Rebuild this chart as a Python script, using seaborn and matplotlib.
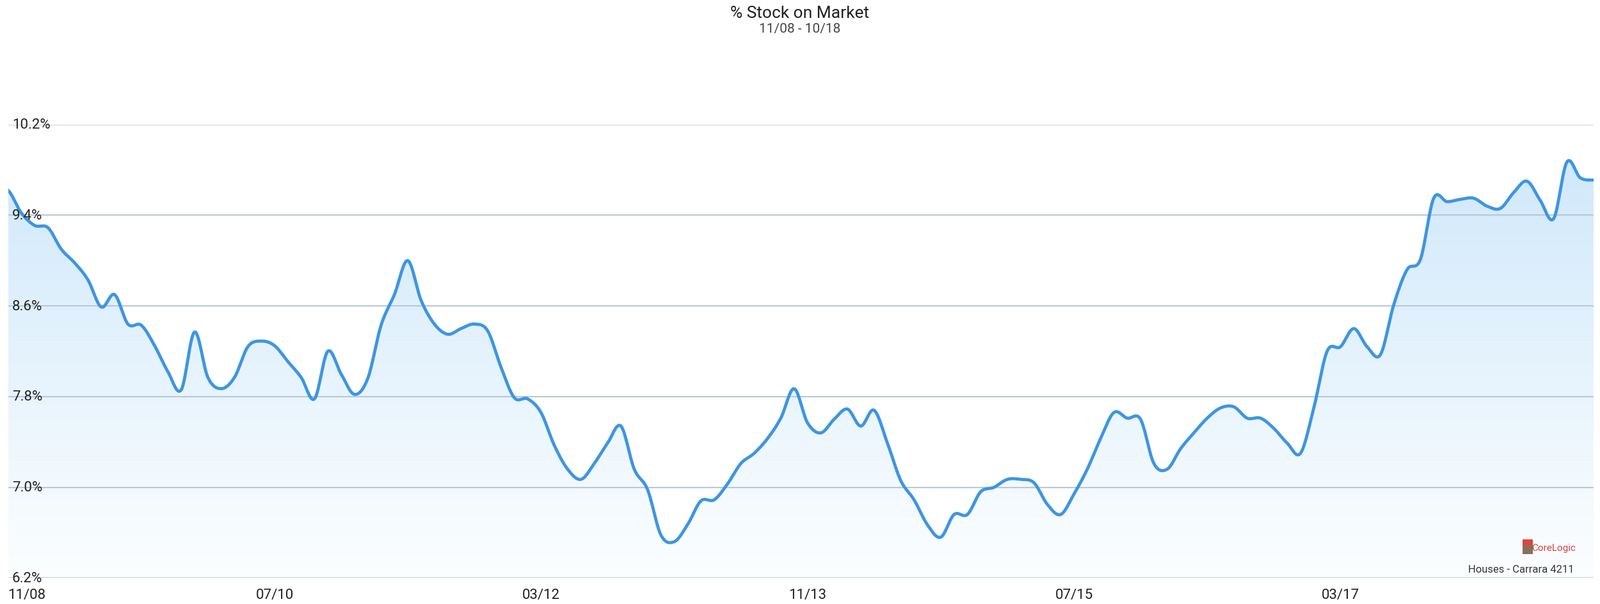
import numpy as np
import pandas as pd
import matplotlib
matplotlib.use("Agg")
import matplotlib.pyplot as plt
import seaborn as sns
from matplotlib.patches import Polygon, Rectangle
from matplotlib.colors import LinearSegmentedColormap

months = pd.date_range("2008-11-01", "2018-10-01", freq="MS")
values = [9.62, 9.42, 9.31, 9.29, 9.10, 8.98, 8.83, 8.59, 8.70, 8.44,
          8.43, 8.25, 8.02, 7.86, 8.37, 7.97, 7.87, 7.97, 8.24, 8.29,
          8.25, 8.11, 7.97, 7.78, 8.20, 8.00, 7.82, 7.96, 8.43, 8.70,
          9.00, 8.65, 8.44, 8.35, 8.40, 8.44, 8.38, 8.06, 7.79, 7.78,
          7.66, 7.37, 7.16, 7.07, 7.21, 7.39, 7.54, 7.16, 6.98, 6.58,
          6.52, 6.67, 6.88, 6.89, 7.03, 7.21, 7.30, 7.43, 7.61, 7.87,
          7.57, 7.48, 7.60, 7.69, 7.54, 7.68, 7.39, 7.06, 6.89, 6.67,
          6.56, 6.76, 6.76, 6.96, 7.00, 7.07, 7.07, 7.04, 6.85, 6.76,
          6.94, 7.16, 7.43, 7.66, 7.61, 7.60, 7.21, 7.16, 7.34, 7.48,
          7.61, 7.70, 7.71, 7.61, 7.61, 7.52, 7.39, 7.30, 7.70, 8.20,
          8.24, 8.40, 8.24, 8.17, 8.61, 8.92, 9.01, 9.55, 9.52, 9.54,
          9.55, 9.48, 9.46, 9.60, 9.70, 9.53, 9.37, 9.87, 9.73, 9.71]
y_ticks = [6.2, 7.0, 7.8, 8.6, 9.4, 10.2]
x_tick_labels = ["11/08", "07/10", "03/12", "11/13", "07/15", "03/17"]
x_tick_idx = [0, 20, 40, 60, 80, 100]

ts = np.linspace(0, len(values) - 1, 2000)
v = np.array(values)
def catmull(tq):
    i = np.clip(np.floor(tq).astype(int), 0, len(v) - 2)
    u = tq - i
    p0 = v[np.clip(i - 1, 0, len(v) - 1)]; p1 = v[i]; p2 = v[i + 1]; p3 = v[np.clip(i + 2, 0, len(v) - 1)]
    return 0.5 * ((2 * p1) + (-p0 + p2) * u + (2 * p0 - 5 * p1 + 4 * p2 - p3) * u ** 2 + (-p0 + 3 * p1 - 3 * p2 + p3) * u ** 3)
vs = catmull(ts)
df = pd.DataFrame({"x": ts, "y": vs})

plt.rcParams["font.family"] = "Roboto"
fig = plt.figure(figsize=(25, 9.45), dpi=100)
ax = fig.add_axes([0.005, 0.043, 0.991, 0.750])
ax.set_xlim(0, len(values) - 1)
ax.set_ylim(6.2, 10.2)

grad = np.linspace(0, 1, 256).reshape(-1, 1)
cmap = LinearSegmentedColormap.from_list("g", ["#fcfeff", "#cfe8fb"])
im = ax.imshow(grad, aspect="auto", cmap=cmap, origin="lower",
               extent=[0, len(values) - 1, 6.2, 10.0], zorder=1)
poly = Polygon(np.column_stack([np.r_[ts, ts[-1], ts[0]], np.r_[vs, 6.2, 6.2]]),
               closed=True, transform=ax.transData, facecolor="none", edgecolor="none")
ax.add_patch(poly)
im.set_clip_path(poly)

for yt in y_ticks:
    ax.axhline(yt, color="#c7d3e0" if yt in (6.2, 10.2) else "#b8c8d8", lw=1.5, zorder=2)
    ax.text(0.3, yt, f"{yt:.1f}%", fontsize=16, color="#222222",
            va="center", ha="left", zorder=5)

sns.lineplot(data=df, x="x", y="y", ax=ax, color="#3d95e3", lw=3.5, zorder=4)

ax.set_axis_off()
for idx, lab in zip(x_tick_idx, x_tick_labels):
    ax.text(idx, 6.2 - 0.09, lab, fontsize=16, color="#222222",
            ha="left" if idx == 0 else "center", va="top", clip_on=False)

fig.text(0.5, 0.99, "% Stock on Market", ha="center", va="top", fontsize=19, color="#222222")
fig.text(0.5, 0.962, "11/08 - 10/18", ha="center", va="top", fontsize=15, color="#444444")
fig.text(0.985, 0.093, "CoreLogic", ha="right", va="center", fontsize=11, color="#d9413a")
fig.patches.append(Rectangle((0.9515, 0.083), 0.0065, 0.017, transform=fig.transFigure,
                             facecolor="#8a6d5a", edgecolor="none"))
fig.patches.append(Rectangle((0.9515, 0.097), 0.0065, 0.01, transform=fig.transFigure,
                             facecolor="#e0443a", edgecolor="none"))
fig.text(0.984, 0.058, "Houses - Carrara 4211", ha="right", va="center", fontsize=12, color="#333333")

fig.savefig("out.png", dpi=100, facecolor="white")
